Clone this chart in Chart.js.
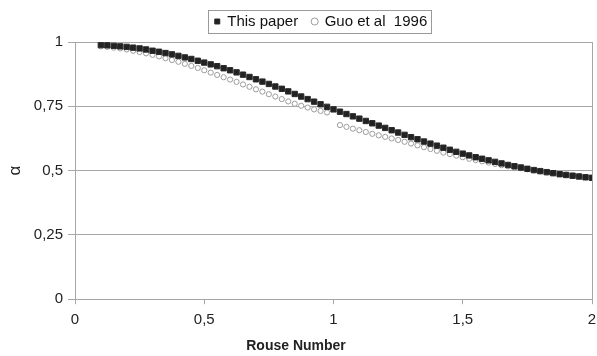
<!DOCTYPE html>
<html>
<head>
<meta charset="utf-8">
<script src="https://cdn.jsdelivr.net/npm/chart.js@4.4.1/dist/chart.umd.min.js"></script>
<style>
  html, body { margin: 0; padding: 0; background: #ffffff; }
  #wrap { width: 597px; height: 356px; }
</style>
</head>
<body>
<div id="wrap"><canvas id="c" width="597" height="356"></canvas></div>
<script>
// ---- data ----
const thisPaperX = [0.100,0.125,0.150,0.175,0.200,0.225,0.250,0.275,0.300,0.325,0.350,0.375,0.400,0.425,0.450,0.475,0.500,0.525,0.550,0.575,0.600,0.625,0.650,0.675,0.700,0.725,0.750,0.775,0.800,0.825,0.850,0.875,0.900,0.925,0.950,0.975,1.000,1.025,1.050,1.075,1.100,1.125,1.150,1.175,1.200,1.225,1.250,1.275,1.300,1.325,1.350,1.375,1.400,1.425,1.450,1.475,1.500,1.525,1.550,1.575,1.600,1.625,1.650,1.675,1.700,1.725,1.750,1.775,1.800,1.825,1.850,1.875,1.900,1.925,1.950,1.975,2.000];
const thisPaperY = [0.988,0.987,0.985,0.983,0.981,0.978,0.975,0.971,0.966,0.962,0.957,0.952,0.946,0.940,0.934,0.927,0.920,0.913,0.906,0.898,0.890,0.882,0.873,0.864,0.855,0.846,0.837,0.827,0.818,0.808,0.798,0.788,0.778,0.768,0.758,0.748,0.738,0.729,0.720,0.711,0.702,0.693,0.684,0.675,0.666,0.657,0.648,0.639,0.630,0.622,0.613,0.605,0.597,0.589,0.581,0.573,0.566,0.559,0.552,0.546,0.540,0.534,0.528,0.522,0.517,0.512,0.507,0.502,0.498,0.494,0.490,0.486,0.483,0.480,0.477,0.474,0.472];

const guoX = [0.100,0.125,0.150,0.175,0.200,0.225,0.250,0.275,0.300,0.325,0.350,0.375,0.400,0.425,0.450,0.475,0.500,0.525,0.550,0.575,0.600,0.625,0.650,0.675,0.700,0.725,0.750,0.775,0.800,0.825,0.850,0.875,0.900,0.925,0.950,0.975,1.025,1.050,1.075,1.100,1.125,1.150,1.175,1.200,1.225,1.250,1.275,1.300,1.325,1.350,1.375,1.400,1.425,1.450,1.475,1.500,1.525,1.550,1.575,1.600,1.625,1.650,1.675,1.700,1.725,1.750,1.775,1.800,1.825,1.850,1.875,1.900,1.925,1.950,1.975,2.000];
const guoY = [0.983,0.981,0.978,0.975,0.971,0.966,0.961,0.956,0.950,0.944,0.937,0.930,0.923,0.915,0.907,0.899,0.890,0.881,0.872,0.863,0.854,0.845,0.835,0.826,0.816,0.807,0.797,0.788,0.778,0.769,0.760,0.752,0.745,0.738,0.732,0.726,0.677,0.670,0.663,0.657,0.650,0.643,0.637,0.631,0.625,0.619,0.612,0.605,0.598,0.591,0.584,0.577,0.570,0.564,0.558,0.552,0.546,0.541,0.536,0.531,0.526,0.521,0.517,0.513,0.509,0.505,0.501,0.497,0.493,0.490,0.487,0.484,0.481,0.478,0.475,0.472];

const seriesNames = ['This paper', 'Guo et al  1996'];
const xAxisTitle = 'Rouse Number';
const yAxisTitle = '\u03b1';
const xTicks = [0, 0.5, 1, 1.5, 2];
const yTicks = [0, 0.25, 0.5, 0.75, 1];

const toPoints = (xs, ys) => xs.map((x, i) => ({ x: x, y: ys[i] }));
const fmt = v => String(v).replace('.', ',');
const FONT = '"Liberation Sans", Arial, sans-serif';
const GRID = '#a6a6a6';
const LEGEND_FS = 15;

const legendFrame = {
  id: 'legendFrame',
  afterLayout(chart) {
    const L = chart.legend;
    if (!L) return;
    L.left += 25; L.right += 25;
    L.top -= 3; L.bottom -= 3;
  },
  afterDraw(chart) {
    const L = chart.legend;
    if (!L || !L.lineWidths) return;
    const ctx = chart.ctx;
    const pad = L.options.labels.padding;
    const lw = L.lineWidths[0];
    const xs = (L.left + pad + L.right - lw) / 2;
    const cy = L.top + pad + LEGEND_FS / 2;
    ctx.save();
    ctx.strokeStyle = '#9a9a9a';
    ctx.lineWidth = 1;
    ctx.strokeRect(Math.round(xs - 7) + 0.5, Math.round(cy - 11.5) + 0.5, Math.round(lw - pad + 11), 23);
    ctx.restore();
  }
};

new Chart(document.getElementById('c'), {
  type: 'scatter',
  data: {
    datasets: [
      {
        label: seriesNames[0],
        data: toPoints(thisPaperX, thisPaperY),
        pointStyle: 'rect',
        pointRadius: 3.8,
        backgroundColor: '#222222',
        borderColor: '#2a2a2a',
        borderWidth: 1,
        showLine: false
      },
      {
        label: seriesNames[1],
        data: toPoints(guoX, guoY),
        pointStyle: 'circle',
        pointRadius: 2.6,
        backgroundColor: '#ffffff',
        borderColor: '#9c9c9c',
        borderWidth: 1,
        showLine: false
      }
    ]
  },
  options: {
    responsive: false,
    animation: false,
    devicePixelRatio: 1,
    layout: { autoPadding: false, padding: { top: 3, right: 5, bottom: 0, left: 0 } },
    plugins: {
      legend: {
        position: 'top',
        labels: {
          usePointStyle: true,
          boxWidth: 5,
          boxHeight: 5,
          padding: 14,
          color: '#111111',
          font: { family: FONT, size: LEGEND_FS }
        }
      },
      title: {
        display: true,
        position: 'bottom',
        text: xAxisTitle,
        color: '#222222',
        font: { family: FONT, size: 14, weight: 'bold' },
        padding: { top: 7, bottom: 1 }
      },
      tooltip: { enabled: false }
    },
    scales: {
      x: {
        type: 'linear',
        min: 0, max: 2,
        afterFit: s => { s.height = 32; s.paddingRight = 0; s.paddingLeft = 0; },
        afterBuildTicks: s => { s.ticks = xTicks.map(v => ({ value: v })); },
        ticks: {
          callback: v => fmt(v),
          color: '#222222',
          font: { family: FONT, size: 15 },
          padding: 7,
          maxRotation: 0
        },
        grid: {
          color: c => (c.tick && c.tick.value === 2) ? GRID : 'rgba(0,0,0,0)',
          tickColor: GRID,
          tickLength: 5,
          drawOnChartArea: true
        },
        border: { color: GRID, width: 1 }
      },
      y: {
        type: 'linear',
        min: 0, max: 1,
        afterFit: s => { s.width = 75; s.paddingTop = 0; s.paddingBottom = 0; },
        afterBuildTicks: s => { s.ticks = yTicks.map(v => ({ value: v })); },
        ticks: {
          callback: v => fmt(v),
          color: '#222222',
          font: { family: FONT, size: 15 },
          padding: 5
        },
        grid: {
          color: GRID,
          tickColor: GRID,
          tickLength: 7
        },
        border: { color: GRID, width: 1 },
        title: {
          display: true,
          text: yAxisTitle,
          color: '#222222',
          font: { family: FONT, size: 17 },
          padding: { top: 5, bottom: 0 }
        }
      }
    }
  },
  plugins: [legendFrame]
});
</script>
</body>
</html>
